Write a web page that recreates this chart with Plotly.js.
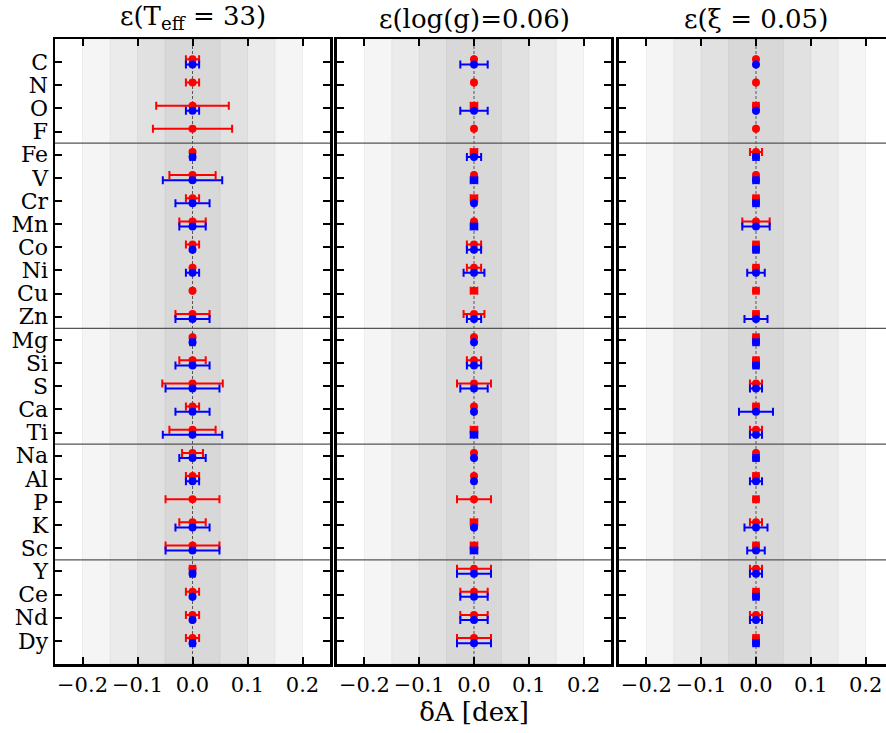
<!DOCTYPE html>
<html>
<head>
<meta charset="utf-8">
<script src="https://cdn.plot.ly/plotly-3.0.1.min.js"></script>
<style>html,body{margin:0;padding:0;overflow:hidden;background:#fff;}#plot{width:894px;height:733px;}</style>
</head>
<body>
<div id="plot"></div>
<script>
// ---- data ----
const elements = ["C","N","O","F","Fe","V","Cr","Mn","Co","Ni","Cu","Zn","Mg","Si","S","Ca","Ti","Na","Al","P","K","Sc","Y","Ce","Nd","Dy"];
const panelTitles = ["ε(T<sub>eff</sub> = 33)", "ε(log(g)=0.06)", "ε(ξ = 0.05)"];
const xTickVals = [-0.2, -0.1, 0.0, 0.1, 0.2];
const xTickText = ["−0.2", "−0.1", "0.0", "0.1", "0.2"];
const groupBreaks = [3.5, 11.5, 16.5, 21.5];
const bandHalfWidths = [0.2, 0.15, 0.1, 0.05];

// red series (delta abundance) and errors, per panel
const teffRed    = [0,0,0,0,0,0,0,0,0,0,0,0,0,0,0,0,0,0,0,0,0,0,0,0,0,0];
const teffRedErr = [0.012,0.012,0.066,0.072,0,0.042,0.012,0.024,0.012,0,0,0.031,0,0.024,0.055,0.012,0.042,0.019,0.012,0.049,0.024,0.049,0.005,0.012,0.012,0.012];
const teffBlue    = [0,null,0,null,0,0,0,0,0,0,null,0,0,0,0,0,0,0,0,null,0,0,0,0,0,0];
const teffBlueErr = [0.012,null,0.012,null,0.004,0.054,0.031,0.024,0,0.012,null,0.031,0.004,0.031,0.049,0.031,0.054,0.024,0.012,null,0.031,0.049,0.004,0,0,0.004];

const loggRed    = [0,0,0,0,0,0,0,0,0,0,0,0,0,0,0,0,0,0,0,0,0,0,0,0,0,0];
const loggRedErr = [0,0,0.006,0,0.006,0,0.006,0,0.013,0.013,0.006,0.019,0,0.013,0.031,0,0.006,0,0,0.031,0.006,0.006,0.031,0.025,0.025,0.031];
const loggBlue    = [0,null,0,null,0,0,0,0,0,0,null,0,0,0,0,0,0,0,0,null,0,0,0,0,0,0];
const loggBlueErr = [0.025,null,0.025,null,0.013,0.006,0,0.006,0.013,0.019,null,0.013,0,0.013,0.025,0,0.006,0,0,null,0,0.006,0.031,0.025,0.025,0.031];

const xiRed    = [0,0,0,0,0,0,0,0,0,0,0,0,0,0,0,0,0,0,0,0,0,0,0,0,0,0];
const xiRedErr = [0,0,0.005,0,0.011,0,0.005,0.025,0.005,0.005,0.005,0.005,0.005,0.005,0.011,0.005,0.011,0,0.005,0.005,0.011,0.005,0.011,0.005,0.011,0.005];
const xiBlue    = [0,null,0,null,0,0,0,0,0,0,null,0,0,0,0,0,0,0,0,null,0,0,0,0,0,0];
const xiBlueErr = [0,null,0,null,0.005,0.005,0.005,0.025,0.005,0.016,null,0.021,0.005,0.005,0.011,0.031,0.011,0.005,0.011,null,0.021,0.016,0.011,0.005,0.011,0.005];

// ---- build ----
const idx = elements.map((e, i) => i);
const FONT = "DejaVu Serif";
const panels = [
  {red: teffRed, redErr: teffRedErr, blue: teffBlue, blueErr: teffBlueErr},
  {red: loggRed, redErr: loggRedErr, blue: loggBlue, blueErr: loggBlueErr},
  {red: xiRed, redErr: xiRedErr, blue: xiBlue, blueErr: xiBlueErr}
];
const domains = [[0, 0.3282], [0.3365, 0.6635], [0.673, 1]];
const traces = [];
const shapes = [];
const annotations = [];
const layout = {
  width: 894, height: 733,
  margin: {l: 55, r: 1, t: 39, b: 69},
  paper_bgcolor: "#fff", plot_bgcolor: "#fff",
  showlegend: false,
  font: {family: FONT, color: "#000"}
};
panels.forEach((p, k) => {
  const sx = k === 0 ? "" : String(k + 1);
  const xa = "x" + sx, ya = "y" + sx;
  traces.push({
    type: "scatter", mode: "markers", xaxis: xa, yaxis: ya,
    x: p.red, y: idx.map(i => i - 0.12),
    marker: {color: "#ff0000", size: 8},
    error_x: {type: "data", array: p.redErr, visible: true, color: "#ff0000", thickness: 2, width: 4},
    hoverinfo: "skip"
  });
  traces.push({
    type: "scatter", mode: "markers", xaxis: xa, yaxis: ya,
    x: p.blue, y: idx.map(i => i + 0.1),
    marker: {color: "#0000ff", size: 8},
    error_x: {type: "data", array: p.blueErr, visible: true, color: "#0000ff", thickness: 2, width: 4},
    hoverinfo: "skip"
  });
  layout["xaxis" + sx] = {
    domain: domains[k], anchor: ya, range: [-0.25, 0.25],
    tickvals: xTickVals, ticktext: xTickText, tickangle: 0,
    ticks: "inside", ticklen: 7, tickwidth: 2, tickcolor: "#000",
    showline: true, linewidth: 2.5, linecolor: "#000", mirror: "allticks",
    showgrid: false, zeroline: false,
    tickfont: {family: FONT, size: 21, color: "#000"}
  };
  layout["yaxis" + sx] = {
    anchor: xa, range: [26, -1],
    tickvals: idx, ticktext: elements, showticklabels: k === 0,
    ticks: "inside", ticklen: 7, tickwidth: 2, tickcolor: "#000",
    showline: true, linewidth: 2.5, linecolor: "#000", mirror: "allticks",
    showgrid: false, zeroline: false,
    tickfont: {family: FONT, size: 22, color: "#000"}
  };
  bandHalfWidths.forEach(h => {
    shapes.push({type: "rect", xref: xa, yref: ya + " domain", x0: -h, x1: h, y0: 0, y1: 1,
      fillcolor: "rgba(0,0,0,0.04)", line: {width: 1, color: "rgba(0,0,0,0.05)"}, layer: "below"});
  });
  shapes.push({type: "line", xref: xa, yref: ya + " domain", x0: 0, x1: 0, y0: 0, y1: 1,
    line: {color: "#555", width: 1, dash: "3px,2px"}, layer: "below"});
  groupBreaks.forEach(b => {
    shapes.push({type: "line", xref: xa + " domain", yref: ya, x0: 0, x1: 1, y0: b, y1: b,
      line: {color: "#555", width: 1.2}, layer: "below"});
  });
  annotations.push({text: panelTitles[k], xref: xa + " domain", yref: "paper", x: 0.5, y: 1,
    yanchor: "bottom", yshift: 3, showarrow: false, font: {family: FONT, size: 26, color: "#000"}});
});
layout.xaxis2.title = {text: "δA [dex]", font: {family: FONT, size: 26, color: "#000"}, standoff: 6};
layout.shapes = shapes;
layout.annotations = annotations;
Plotly.newPlot("plot", traces, layout, {staticPlot: true, displayModeBar: false});
</script>
</body>
</html>
